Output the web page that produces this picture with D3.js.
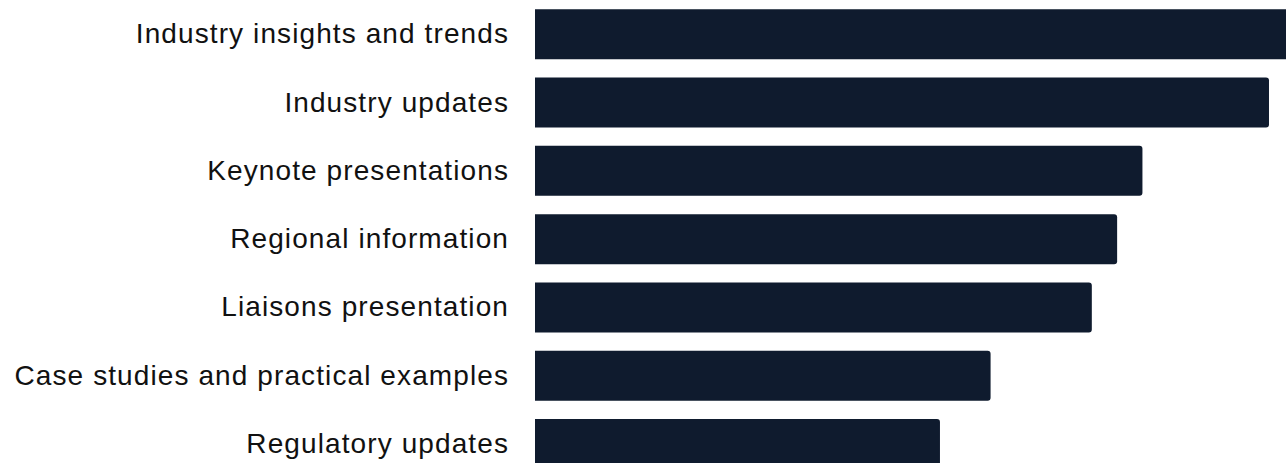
<!DOCTYPE html>
<html>
<head>
<meta charset="utf-8">
<script src="https://cdn.jsdelivr.net/npm/d3@7"></script>
<style>
  html, body { margin: 0; padding: 0; background: #ffffff; overflow: hidden; }
  svg { display: block; }
</style>
</head>
<body>
<svg id="chart" width="1286" height="463"></svg>
<script>
// Topics ranked by number of mentions
const categories = [
  "Industry insights and trends",
  "Industry updates",
  "Keynote presentations",
  "Regional information",
  "Liaisons presentation",
  "Case studies and practical examples",
  "Regulatory updates"
];
const values = [30, 29, 24, 23, 22, 18, 16];

const svg = d3.select("#chart");
const barLeft = 535;
const unit = 25.31;

const x = d3.scaleLinear()
  .domain([0, 30])
  .range([barLeft, barLeft + 30 * unit]);

const y = d3.scaleBand()
  .domain(categories)
  .range([0, 68.33 * categories.length])
  .paddingInner(0.268)
  .paddingOuter(0.136);

const barColor = "#0f1b2e";
const r = 3;

// Bars: square on the left, rounded on the right
svg.append("g")
  .selectAll("path")
  .data(categories)
  .join("path")
  .attr("fill", barColor)
  .attr("d", (d, i) => {
    const x0 = x(0), x1 = x(values[i]);
    const y0 = y(d), h = y.bandwidth();
    const p = d3.path();
    p.moveTo(x0, y0);
    p.lineTo(x1 - r, y0);
    p.arcTo(x1, y0, x1, y0 + r, r);
    p.lineTo(x1, y0 + h - r);
    p.arcTo(x1, y0 + h, x1 - r, y0 + h, r);
    p.lineTo(x0, y0 + h);
    p.closePath();
    return p.toString();
  });

// Category labels
const axis = d3.axisLeft(y).tickSize(0).tickPadding(26);
const g = svg.append("g")
  .attr("transform", `translate(${barLeft},0)`)
  .call(axis);
g.select(".domain").remove();
g.selectAll("text")
  .attr("fill", "#111111")
  .style("font-family", "'Liberation Sans', Arial, Helvetica, sans-serif")
  .style("font-size", "28px")
  .style("letter-spacing", "1.1px");
</script>
</body>
</html>
